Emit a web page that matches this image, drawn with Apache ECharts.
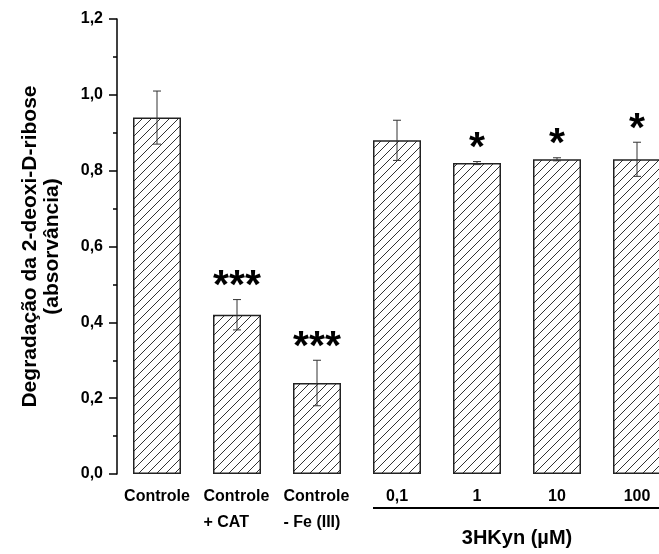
<!DOCTYPE html>
<html>
<head>
<meta charset="utf-8">
<script src="https://cdn.jsdelivr.net/npm/echarts@6/dist/echarts.min.js"></script>
<style>
  html, body { margin: 0; padding: 0; background: #fff; }
  #chart { width: 659px; height: 554px; }
</style>
</head>
<body>
<div id="chart"></div>
<script>
// Treatment groups, mean absorbance and error (± SD)
const categories = ['Controle', 'Controle\n+ CAT', 'Controle\n- Fe (III)', '0,1', '1', '10', '100'];
const means = [0.94, 0.42, 0.24, 0.88, 0.82, 0.83, 0.83];
const errors = [0.07, 0.04, 0.06, 0.053, 0.004, 0.004, 0.045];
const significance = ['', '***', '***', '', '*', '*', '*'];

// Concentration bracket under the 3HKyn bars
const groupLabel = '3HKyn (µM)';
const groupRange = [3, 6];

// Value axis
const yMin = 0, yMax = 1.2, yStep = 0.2;
const yTitle = 'Degradação da 2-deoxi-D-ribose\n(absorvância)';

const FONT = '"Liberation Sans", Arial, sans-serif';
const BAR_W = 48;

// Diagonal hatch tile used as the bar fill
function hatchPattern() {
  const s = 9;
  const c = document.createElement('canvas');
  c.width = s; c.height = s;
  const g = c.getContext('2d');
  g.fillStyle = '#fff';
  g.fillRect(0, 0, s, s);
  g.strokeStyle = '#333';
  g.lineWidth = 1;
  g.beginPath();
  g.moveTo(-1, s + 1); g.lineTo(s + 1, -1);
  g.moveTo(-1, 1); g.lineTo(1, -1);
  g.moveTo(s - 1, s + 1); g.lineTo(s + 1, s - 1);
  g.stroke();
  return c;
}

const chart = echarts.init(document.getElementById('chart'), null, { renderer: 'canvas' });

const errData = means.map((m, i) => [i, m - errors[i], m + errors[i], significance[i]]);

const option = {
  animation: false,
  backgroundColor: '#fff',
  grid: { left: 117, top: 19, width: 560, height: 455, containLabel: false, outerBoundsMode: 'none' },
  xAxis: {
    type: 'category',
    data: categories,
    axisLine: { show: false },
    axisTick: { show: false },
    axisLabel: {
      interval: 0,
      margin: 10,
      fontFamily: FONT,
      fontWeight: 'bold',
      fontSize: 16,
      color: '#000',
      formatter: function (v) {
        const lines = v.split('\n');
        if (lines.length === 1) return '{c|' + v + '}';
        return lines.map(l => '{l|' + l + '}').join('\n');
      },
      rich: {
        c: { fontFamily: FONT, fontWeight: 'bold', fontSize: 16, lineHeight: 26, color: '#000' },
        l: { fontFamily: FONT, fontWeight: 'bold', fontSize: 16, lineHeight: 26, color: '#000', width: 67, align: 'left' }
      }
    }
  },
  yAxis: {
    type: 'value',
    min: yMin,
    max: yMax,
    interval: yStep,
    name: yTitle,
    nameLocation: 'middle',
    nameRotate: 90,
    nameGap: 54,
    nameTextStyle: { fontFamily: FONT, fontWeight: 'bold', fontSize: 21, lineHeight: 22, color: '#000', align: 'center' },
    axisLine: { show: true, lineStyle: { color: '#000', width: 1.5 } },
    axisTick: { show: true, inside: false, length: 8, lineStyle: { color: '#000', width: 1.5 } },
    minorTick: { show: true, splitNumber: 2, length: 4, lineStyle: { color: '#000', width: 1.5 } },
    splitLine: { show: false },
    axisLabel: {
      margin: 14,
      fontFamily: FONT,
      fontWeight: 'bold',
      fontSize: 16,
      color: '#000',
      formatter: v => v.toFixed(1).replace('.', ',')
    }
  },
  series: [
    {
      type: 'bar',
      data: means,
      barWidth: BAR_W,
      itemStyle: {
        color: { image: hatchPattern(), repeat: 'repeat' },
        borderColor: '#222',
        borderWidth: 1.5
      }
    },
    {
      // error bars with significance marks above them
      type: 'custom',
      data: errData,
      clip: false,
      z: 5,
      renderItem: function (params, api) {
        const x = api.value(0);
        const lo = api.coord([x, api.value(1)]);
        const hi = api.coord([x, api.value(2)]);
        const cap = 4;
        const stroke = { stroke: '#333', lineWidth: 1 };
        const children = [
          { type: 'line', shape: { x1: hi[0], y1: hi[1], x2: lo[0], y2: lo[1] }, style: stroke },
          { type: 'line', shape: { x1: hi[0] - cap, y1: hi[1], x2: hi[0] + cap, y2: hi[1] }, style: stroke },
          { type: 'line', shape: { x1: lo[0] - cap, y1: lo[1], x2: lo[0] + cap, y2: lo[1] }, style: stroke }
        ];
        const mark = significance[params.dataIndex];
        if (mark) {
          children.push({
            type: 'text',
            style: {
              x: hi[0], y: hi[1] - 13,
              text: mark,
              fill: '#000',
              font: 'bold 41px ' + FONT,
              align: 'center',
              verticalAlign: 'middle'
            }
          });
        }
        return { type: 'group', children: children };
      }
    },
    {
      // bracket line and title for the 3HKyn concentrations
      type: 'custom',
      data: [[groupRange[0], groupRange[1]]],
      clip: false,
      silent: true,
      renderItem: function (params, api) {
        const a = api.coord([api.value(0), 0]);
        const b = api.coord([api.value(1), 0]);
        const x1 = a[0] - BAR_W / 2, x2 = b[0] + BAR_W / 2;
        const base = a[1];
        return {
          type: 'group',
          children: [
            { type: 'line', shape: { x1: x1, y1: base + 34, x2: x2, y2: base + 34 }, style: { stroke: '#000', lineWidth: 2 } },
            {
              type: 'text',
              style: {
                x: (x1 + x2) / 2, y: base + 64,
                text: groupLabel,
                fill: '#000',
                font: 'bold 20px ' + FONT,
                align: 'center',
                verticalAlign: 'middle'
              }
            }
          ]
        };
      }
    }
  ]
};

chart.setOption(option);
</script>
</body>
</html>
